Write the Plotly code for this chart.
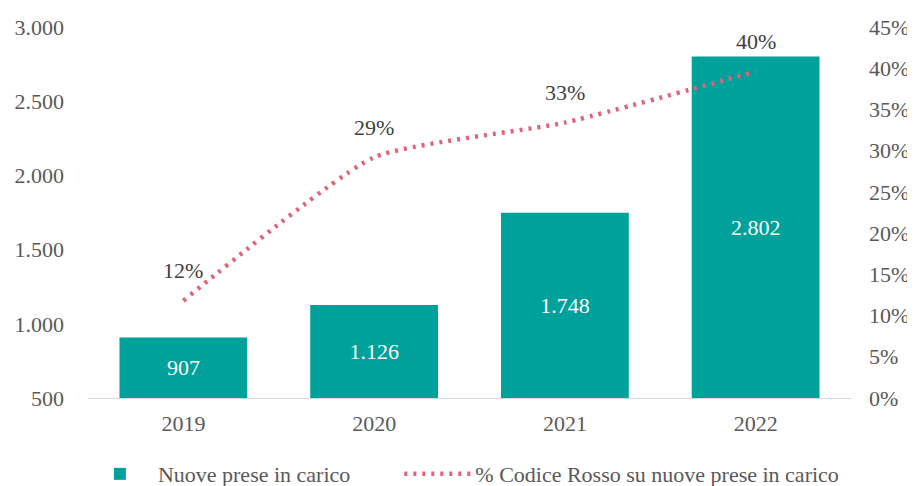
import plotly.graph_objects as go

years = ["2019", "2020", "2021", "2022"]
nuove_prese = [907, 1126, 1748, 2802]
codice_rosso_pct = [0.118, 0.292, 0.334, 0.396]
pct_labels = ["12%", "29%", "33%", "40%"]

left_ticks = [500, 1000, 1500, 2000, 2500, 3000]
right_ticks = [0, 0.05, 0.10, 0.15, 0.20, 0.25, 0.30, 0.35, 0.40, 0.45]

TEAL = "#00A19A"
PINK = "#E0637A"
GRAY = "#595959"
FONT = "Liberation Serif"
FS = 22

axis_min = left_ticks[0]

fig = go.Figure()
# bars start at the axis floor so the value label sits in the middle of the visible bar
fig.add_trace(go.Bar(
    x=years, y=[v - axis_min for v in nuove_prese], base=axis_min,
    customdata=nuove_prese, name="Nuove prese in carico",
    marker=dict(color=TEAL, line=dict(width=0)),
    texttemplate="%{customdata:,}", textposition="inside", insidetextanchor="middle",
    textfont=dict(color="white", size=FS, family=FONT),
    yaxis="y", legend="legend",
))
fig.add_trace(go.Scatter(
    x=years, y=codice_rosso_pct, name="% Codice Rosso su nuove prese in carico",
    mode="lines", line=dict(color=PINK, width=4.5, dash="3px,6px", shape="spline", smoothing=0.5),
    yaxis="y2", legend="legend2",
))
# category axis: annotate by category index (numeric-looking names would be read as indices)
for i, (v, lab) in enumerate(zip(codice_rosso_pct, pct_labels)):
    fig.add_annotation(x=i, y=v, xref="x", yref="y2", text=lab, showarrow=False,
                       yshift=30, font=dict(size=FS, color="#404040", family=FONT))

leg_common = dict(orientation="h", yanchor="middle", y=-0.205, xanchor="left",
                  font=dict(size=FS, color=GRAY, family=FONT), bgcolor="rgba(0,0,0,0)")

# page body has an 8px default margin, so the figure is shifted by 8px
fig.update_layout(
    width=907, height=486,
    margin=dict(l=79.5, r=63.5, t=19, b=96, autoexpand=False),
    paper_bgcolor="white", plot_bgcolor="white",
    separators=",.",
    font=dict(family=FONT, size=FS, color=GRAY),
    bargap=0.33,
    showlegend=True,
    legend=dict(x=-0.008, itemwidth=66, **leg_common),
    legend2=dict(x=0.408, itemwidth=66, **leg_common),
    xaxis=dict(type="category", showgrid=False, showline=True, linecolor="#D9D9D9", linewidth=1,
               ticks="", ticklabelstandoff=6, tickfont=dict(size=FS, color=GRAY)),
    yaxis=dict(range=[500, 3000], tickvals=left_ticks, tickformat=",", showgrid=False,
               showline=False, zeroline=False, ticks="", ticklabelstandoff=23,
               tickfont=dict(size=FS, color=GRAY)),
    yaxis2=dict(range=[0, 0.45], tickvals=right_ticks, tickformat=".0%", overlaying="y",
                side="right", showgrid=False, showline=False, zeroline=False, ticks="",
                ticklabelstandoff=17, tickfont=dict(size=FS, color=GRAY)),
)

fig.write_html("out.html")
